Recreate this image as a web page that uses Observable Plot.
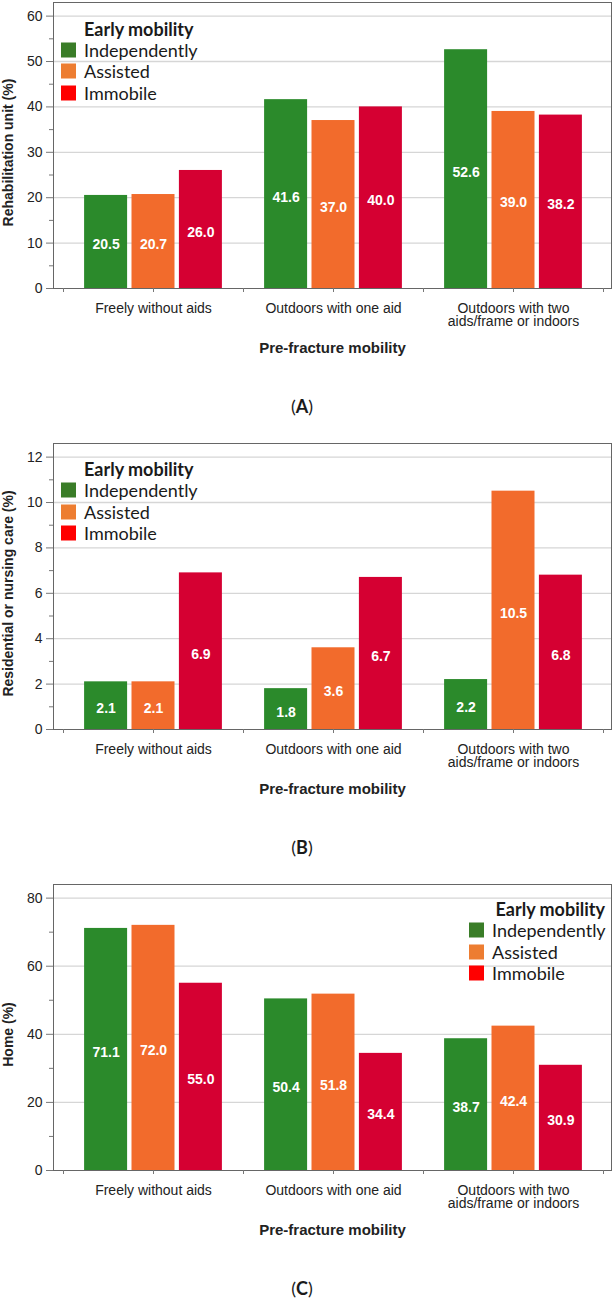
<!DOCTYPE html>
<html>
<head>
<meta charset="utf-8">
<script src="https://cdn.jsdelivr.net/npm/d3@7"></script>
<script src="https://cdn.jsdelivr.net/npm/@observablehq/plot@0.6"></script>
<style>
  html, body { margin: 0; padding: 0; background: #fff; }
  #page { position: relative; width: 614px; height: 1298px; }
  .panel { position: absolute; left: 0; width: 614px; }
  .panel svg { display: block; overflow: visible; }
  .legend { position: absolute; font-family: Lato, "Open Sans", sans-serif; color: #1a1a1a; }
  .legend .title { position: absolute; font-weight: bold; font-size: 18px; line-height: 20px; white-space: nowrap; transform: translateY(-50%); }
  .legend .row { position: absolute; font-size: 18px; line-height: 20px; white-space: nowrap; transform: translateY(-50%); }
  .legend .sw { position: absolute; width: 15px; height: 15px; transform: translateY(-50%); }
  .caption { position: absolute; width: 80px; text-align: center; font-family: Lato, "Open Sans", sans-serif;
             font-size: 18px; line-height: 16px; color: #1a1a1a; transform: translate(-50%, -50%); }
  .caption b { font-weight: bold; }
</style>
</head>
<body>
<div id="page"></div>
<script>
// Pre-fracture mobility groups (x axis) and early mobility series
const groups = ["Freely without aids", "Outdoors with one aid", "Outdoors with two aids/frame or indoors"];
const groupTickLabels = ["Freely without aids", "Outdoors with one aid", "Outdoors with two\naids/frame or indoors"];
const series = ["Independently", "Assisted", "Immobile"];

// Percentages per group, in series order [Independently, Assisted, Immobile]
const rehabValues = [[20.5, 20.7, 26.0], [41.6, 37.0, 40.0], [52.6, 39.0, 38.2]];
const residentialValues = [[2.1, 2.1, 6.9], [1.8, 3.6, 6.7], [2.2, 10.5, 6.8]];
const homeValues = [[71.1, 72.0, 55.0], [50.4, 51.8, 34.4], [38.7, 42.4, 30.9]];

// y axis ticks per panel
const rehabTicks = [0, 10, 20, 30, 40, 50, 60];
const rehabMinor = [5, 15, 25, 35, 45, 55];
const residentialTicks = [0, 2, 4, 6, 8, 10, 12];
const residentialMinor = [1, 3, 5, 7, 9, 11];
const homeTicks = [0, 20, 40, 60, 80];
const homeMinor = [10, 30, 50, 70];

const barColors = ["#2b8a2b", "#f26b2c", "#d50032"];
const swatchColors = ["#3a7d28", "#ed7d31", "#ff0000"];
const barOffsets = [-47.4, 0, 47.4];

const axisFont = "'Liberation Sans', Arial, sans-serif";

function panel({values, yMax, ticks, minor, yLabel}) {
  const rows = groups.flatMap((g, i) => series.map((s, j) => ({group: g, series: s, value: values[i][j]})));
  const bySeries = (s) => rows.filter((d) => d.series === s);
  return Plot.plot({
    width: 614,
    height: 370,
    marginLeft: 53,
    marginRight: 3,
    marginTop: 2,
    marginBottom: 82,
    style: {fontFamily: axisFont, color: "#222", background: "white", overflow: "visible"},
    x: {domain: groups, padding: 0, insetLeft: 10, insetRight: 8},
    y: {domain: [0, yMax]},
    marks: [
      Plot.gridY(ticks.filter((t) => t > 0), {stroke: "#d6d6d6", strokeOpacity: 1, strokeWidth: 1.3}),
      ...series.map((s, j) => Plot.barY(bySeries(s), {
        x: "group", y: "value", fill: barColors[j], insetLeft: 68.5, insetRight: 68.5, dx: barOffsets[j]
      })),
      ...series.map((s, j) => Plot.text(bySeries(s), {
        x: "group", y: (d) => d.value / 2, text: (d) => d.value.toFixed(1),
        fill: "white", fontWeight: "bold", fontSize: 14, dx: barOffsets[j], dy: 3
      })),
      Plot.frame({stroke: "#666"}),
      Plot.axisY({ticks, tickSize: 7, tickPadding: 4, fontSize: 14, label: null, stroke: "#777", tickFormat: (d) => d}),
      Plot.axisY({ticks: minor, tickSize: 4, text: null, label: null, stroke: "#777"}),
      Plot.axisX({
        tickSize: 4, tickPadding: 11, fontSize: 14, label: null, stroke: "#777", lineHeight: 0.96,
        tickFormat: (d) => groupTickLabels[groups.indexOf(d)]
      }),
      Plot.axisX({tickSize: 4, text: null, label: null, stroke: "#777", dx: -90}),
      Plot.axisX({ticks: [groups[groups.length - 1]], tickSize: 4, text: null, label: null, stroke: "#777", dx: 90}),
      Plot.text([yLabel], {frameAnchor: "left", textAnchor: "middle", dx: -45, dy: 7, rotate: -90, fontWeight: "bold", fontSize: 14, fill: "#222"}),
      Plot.text(["Pre-fracture mobility"], {frameAnchor: "bottom", dy: 64, fontWeight: "bold", fontSize: 15, fill: "#222"})
    ]
  });
}

function legend(container, {left, right, titleY, rowY}) {
  const lg = document.createElement("div");
  lg.className = "legend";
  lg.style.left = "0px"; lg.style.top = "0px";
  const title = document.createElement("div");
  title.className = "title";
  title.textContent = "Early mobility";
  title.style.top = titleY + "px";
  if (right != null) { title.style.right = (614 - right) + "px"; } else { title.style.left = (left + 23) + "px"; }
  lg.appendChild(title);
  series.forEach((s, j) => {
    const sw = document.createElement("div");
    sw.className = "sw";
    sw.style.background = swatchColors[j];
    sw.style.left = left + "px";
    sw.style.top = rowY[j] + "px";
    const lab = document.createElement("div");
    lab.className = "row";
    lab.textContent = s;
    lab.style.left = (left + 23) + "px";
    lab.style.top = rowY[j] + "px";
    lg.appendChild(sw);
    lg.appendChild(lab);
  });
  lg.style.width = "614px";
  container.appendChild(lg);
}

const page = document.getElementById("page");
const panels = [
  {top: 0, letter: "A", values: rehabValues, yMax: 63, ticks: rehabTicks, minor: rehabMinor, yLabel: "Rehabilitation unit (%)",
   legend: {left: 61, titleY: 29, rowY: [50, 71.3, 92.7]}},
  {top: 441, letter: "B", values: residentialValues, yMax: 12.6, ticks: residentialTicks, minor: residentialMinor, yLabel: "Residential or nursing care (%)",
   legend: {left: 61, titleY: 28, rowY: [49, 70.5, 92]}},
  {top: 882, letter: "C", values: homeValues, yMax: 84, ticks: homeTicks, minor: homeMinor, yLabel: "Home (%)",
   legend: {left: 469, right: 605, titleY: 27.3, rowY: [48, 69.7, 91.3]}}
];

for (const p of panels) {
  const box = document.createElement("div");
  box.className = "panel";
  box.style.top = p.top + "px";
  box.style.height = "400px";
  box.appendChild(panel(p));
  legend(box, p.legend);
  const cap = document.createElement("div");
  cap.className = "caption";
  cap.style.left = "302px";
  cap.style.top = "406px";
  cap.innerHTML = "(<b>" + p.letter + "</b>)";
  box.appendChild(cap);
  page.appendChild(box);
}
</script>
</body>
</html>
